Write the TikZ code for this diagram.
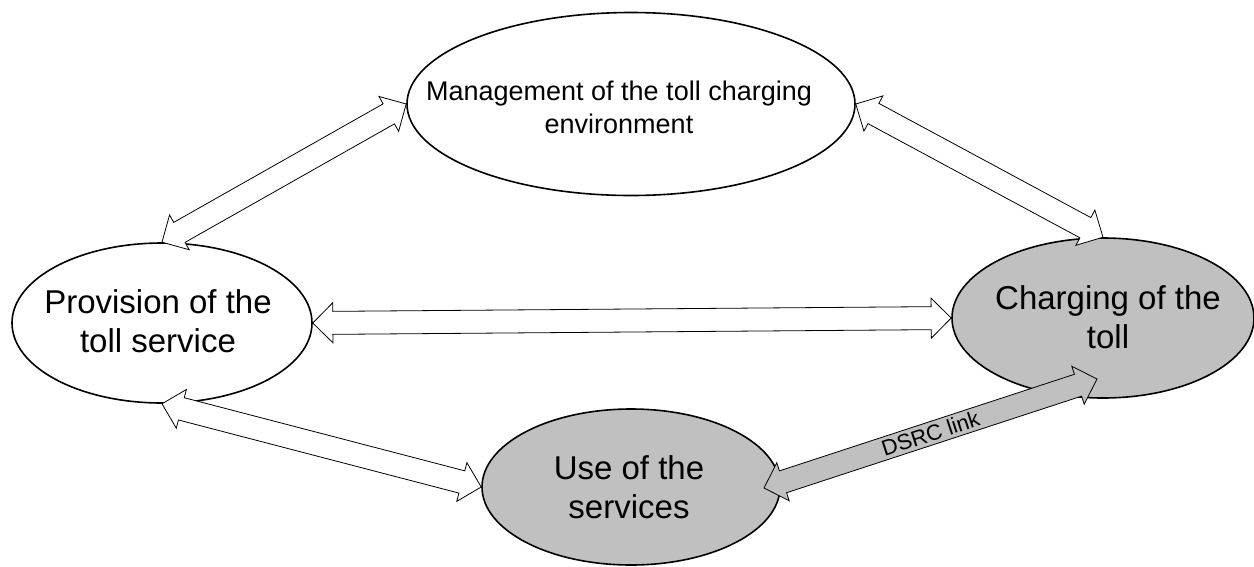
\documentclass[tikz,border=0pt]{standalone}
\usepackage{fontspec}
\setmainfont{Liberation Sans}
\usetikzlibrary{shapes.geometric,calc}
\definecolor{tollgray}{HTML}{C0C0C0}
\newcommand\arrHL{20pt}
\newcommand\arrHW{20pt}
\newcommand\arrSW{11.5pt}
\newcommand\blkarrow[3]{%
  \draw[#1] (#2)
    -- ($(#2)!\arrHL!(#3)!\arrHW!90:(#3)$)
    -- ($(#2)!\arrHL!(#3)!\arrSW!90:(#3)$)
    -- ($(#3)!\arrHL!(#2)!\arrSW!-90:(#2)$)
    -- ($(#3)!\arrHL!(#2)!\arrHW!-90:(#2)$)
    -- (#3)
    -- ($(#3)!\arrHL!(#2)!\arrHW!90:(#2)$)
    -- ($(#3)!\arrHL!(#2)!\arrSW!90:(#2)$)
    -- ($(#2)!\arrHL!(#3)!\arrSW!-90:(#3)$)
    -- ($(#2)!\arrHL!(#3)!\arrHW!-90:(#3)$)
    -- cycle;}
\begin{document}
\begin{tikzpicture}[x=1pt,y=-1pt,
  oval/.style={ellipse, draw, line width=1.6pt, inner sep=0pt, fill=white},
  grayoval/.style={oval, fill=tollgray},
  bigtext/.style={font=\fontsize{33}{39}\selectfont, align=center, inner sep=0pt},
  midtext/.style={font=\fontsize{27}{33}\selectfont, align=center, inner sep=0pt},
  blockarr/.style={draw, line width=0.8pt, line join=miter, fill=white},
  grayarr/.style={blockarr, fill=tollgray}]
\useasboundingbox (0,0) rectangle (1254,566);

\node[oval, minimum width=448pt, minimum height=183pt] (mgmt) at (631,104) {};
\node[oval, minimum width=300pt, minimum height=160pt] (prov) at (162,323) {};
\node[grayoval, minimum width=302pt, minimum height=160pt] (charge) at (1103,318) {};
\node[grayoval, minimum width=298pt, minimum height=156pt] (use) at (631,487) {};

\coordinate (dsrcA) at ($(use.center)+(133,1)$);
\coordinate (dsrcB) at ($(charge.center)+(-6,61)$);

\blkarrow{blockarr}{prov.north}{mgmt.west}
\blkarrow{blockarr}{mgmt.east}{charge.north}
\blkarrow{blockarr}{prov.east}{charge.west}
\blkarrow{blockarr}{prov.south}{use.west}
\blkarrow{grayarr}{dsrcA}{dsrcB}
\path (dsrcA) -- node[sloped, midway, font=\fontsize{22}{26}\selectfont, inner sep=0pt] (dsrc) {DSRC link} (dsrcB);

\node[midtext] (mgmttext) at (619,107) {Management of the toll charging\\environment};
\node[bigtext] (provtext) at (158,321) {Provision of the\\toll service};
\node[bigtext] (chargetext) at (1108,317) {Charging of the\\toll};
\node[bigtext] (usetext) at (629,487) {Use of the\\services};
\end{tikzpicture}
\end{document}
